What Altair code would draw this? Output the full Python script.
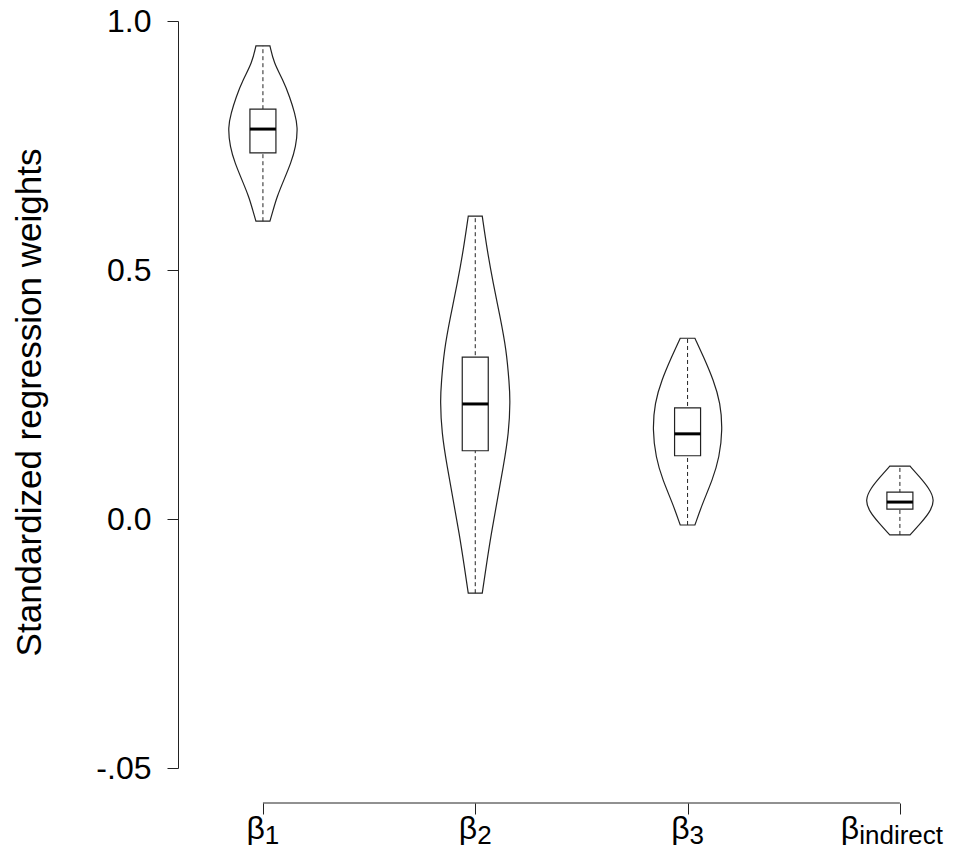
import altair as alt
import pandas as pd

# ---------------- data ----------------
bases = ["β", "β", "β", "β"]
subs = ["1", "2", "3", "indirect"]
positions = [1, 2, 3, 4]

# violin outlines: value, relative half-width (1 = widest)
v1_y = [0.950, 0.916, 0.882, 0.847, 0.815, 0.787, 0.747, 0.715, 0.681, 0.647, 0.620, 0.598]
v1_w = [0.20, 0.31, 0.57, 0.77, 0.91, 1.00, 0.94, 0.80, 0.60, 0.40, 0.29, 0.20]
v2_y = [0.608, 0.540, 0.474, 0.406, 0.339, 0.273, 0.239, 0.173, 0.104, 0.038, -0.028, -0.096, -0.149]
v2_w = [0.20, 0.34, 0.51, 0.71, 0.89, 0.97, 1.00, 0.96, 0.80, 0.63, 0.46, 0.31, 0.20]
v3_y = [0.363, 0.325, 0.279, 0.233, 0.179, 0.124, 0.078, 0.032, -0.012]
v3_w = [0.21, 0.46, 0.74, 0.94, 1.00, 0.91, 0.71, 0.43, 0.21]
v4_y = [0.106, 0.084, 0.062, 0.038, 0.014, -0.008, -0.032]
v4_w = [0.29, 0.57, 0.83, 1.00, 0.86, 0.60, 0.29]

q1 = [0.735, 0.137, 0.127, 0.020]
q3 = [0.823, 0.325, 0.223, 0.054]
med = [0.783, 0.231, 0.171, 0.034]
vmin = [0.598, -0.149, -0.012, -0.032]
vmax = [0.950, 0.608, 0.363, 0.106]

y_ticks = [1.0, 0.5, 0.0, -0.5]

# ---------------- layout constants ----------------
W, H = 765, 747
XDOM = [0.6, 4.203]
K = W / (XDOM[1] - XDOM[0])      # px per x unit
VHW = 35 / K                      # violin max half-width (x units)
BHW = 13 / K                      # box half-width (x units)
FONT = "Liberation Sans"
BETA_FS, SUB_FS = 32, 26
LINE = "#222222"

# ---------------- tables ----------------
vio_rows = []
for cat, p, ys, ws in zip(subs, positions, [v1_y, v2_y, v3_y, v4_y], [v1_w, v2_w, v3_w, v4_w]):
    for yv, wv in zip(ys, ws):
        vio_rows.append({"cat": cat, "pos": p, "y": yv, "w": wv})
vio = pd.DataFrame(vio_rows).sort_values(["cat", "y"])

box = pd.DataFrame({"cat": subs, "pos": positions, "q1": q1, "q3": q3,
                    "med": med, "vmin": vmin, "vmax": vmax})

# label widths from Arial metrics (em); keep each label inside the plot width
cw = {"1": .556, "2": .556, "3": .556, "i": .222, "n": .556, "d": .556,
      "r": .333, "e": .556, "c": .5, "t": .278}
beta_w = 0.573 * BETA_FS
lab_rows = []
for b, s, p in zip(bases, subs, positions):
    sw = sum(cw.get(ch, .5) for ch in s) * SUB_FS
    start = p - (beta_w + sw) / 2 / K
    start = min(start, XDOM[1] - (beta_w + sw) / K)
    lab_rows.append({"base": b, "sub": s, "xb": start, "xs": start + beta_w / K})
labs = pd.DataFrame(lab_rows)

xscale = alt.Scale(domain=XDOM, nice=False, zero=False)
yscale = alt.Scale(domain=[-0.5, 1.0], nice=False, zero=False)

xaxis = alt.Axis(values=positions, labels=False, domain=False, grid=False, title=None,
                 tickSize=11, tickColor=LINE, tickWidth=1, offset=35)
yaxis = alt.Axis(values=y_ticks,
                 labelExpr="datum.value == -0.5 ? '-.05' : format(datum.value, '.1f')",
                 grid=False, tickSize=11, tickColor=LINE, domainColor=LINE,
                 labelFont=FONT, labelFontSize=32, labelColor="black", labelPadding=16,
                 labelFlush=False, labelOverlap=False,
                 title="Standardized regression weights", titleFont=FONT, titleFontSize=35,
                 titleFontWeight="normal", titleColor="black", titleAngle=270,
                 titleAlign="center", titleBaseline="alphabetic", titleX=-138, titleY=381)

violin = alt.Chart(vio).transform_calculate(
    xl=f"datum.pos - datum.w * {VHW}", xr=f"datum.pos + datum.w * {VHW}"
).mark_area(orient="horizontal", interpolate="basis", fill="white",
            stroke=LINE, strokeWidth=1.2).encode(
    y=alt.Y("y:Q", scale=yscale, axis=yaxis),
    x=alt.X("xl:Q", scale=xscale, axis=xaxis),
    x2="xr:Q",
    detail="cat:N",
)

whisk = alt.Chart(box).mark_rule(stroke=LINE, strokeWidth=1, strokeDash=[4, 3]).encode(
    x=alt.X("pos:Q", scale=xscale), y="vmin:Q", y2="vmax:Q")

rect = alt.Chart(box).transform_calculate(
    bl=f"datum.pos - {BHW}", br=f"datum.pos + {BHW}"
).mark_rect(fill="white", stroke=LINE, strokeWidth=1.2).encode(
    x=alt.X("bl:Q", scale=xscale), x2="br:Q", y="q1:Q", y2="q3:Q")

medline = alt.Chart(box).transform_calculate(
    bl=f"datum.pos - {BHW}", br=f"datum.pos + {BHW}"
).mark_rule(stroke="black", strokeWidth=3).encode(
    x=alt.X("bl:Q", scale=xscale), x2="br:Q", y="med:Q")

xdomain = alt.Chart(pd.DataFrame({"a": [positions[0]], "b": [positions[-1]]})).mark_rule(
    stroke=LINE, strokeWidth=1).encode(
    x=alt.X("a:Q", scale=xscale), x2="b:Q", y=alt.value(H + 35))

beta_t = alt.Chart(labs).mark_text(align="left", baseline="alphabetic", font=FONT,
                                   fontSize=BETA_FS, color="black").encode(
    x=alt.X("xb:Q", scale=xscale), y=alt.value(818), text="base:N")
sub_t = alt.Chart(labs).mark_text(align="left", baseline="alphabetic", font=FONT,
                                  fontSize=SUB_FS, color="black").encode(
    x=alt.X("xs:Q", scale=xscale), y=alt.value(823), text="sub:N")

chart = alt.layer(violin, whisk, rect, medline, xdomain, beta_t, sub_t).properties(
    width=W, height=H,
    background="white",
    autosize=alt.AutoSizeParams(type="none"),
    padding={"left": 170, "top": 13, "right": 2, "bottom": 77},
).configure_view(stroke="transparent", strokeWidth=0)

chart.save("out.html", embed_options={"renderer": "svg", "actions": False})
